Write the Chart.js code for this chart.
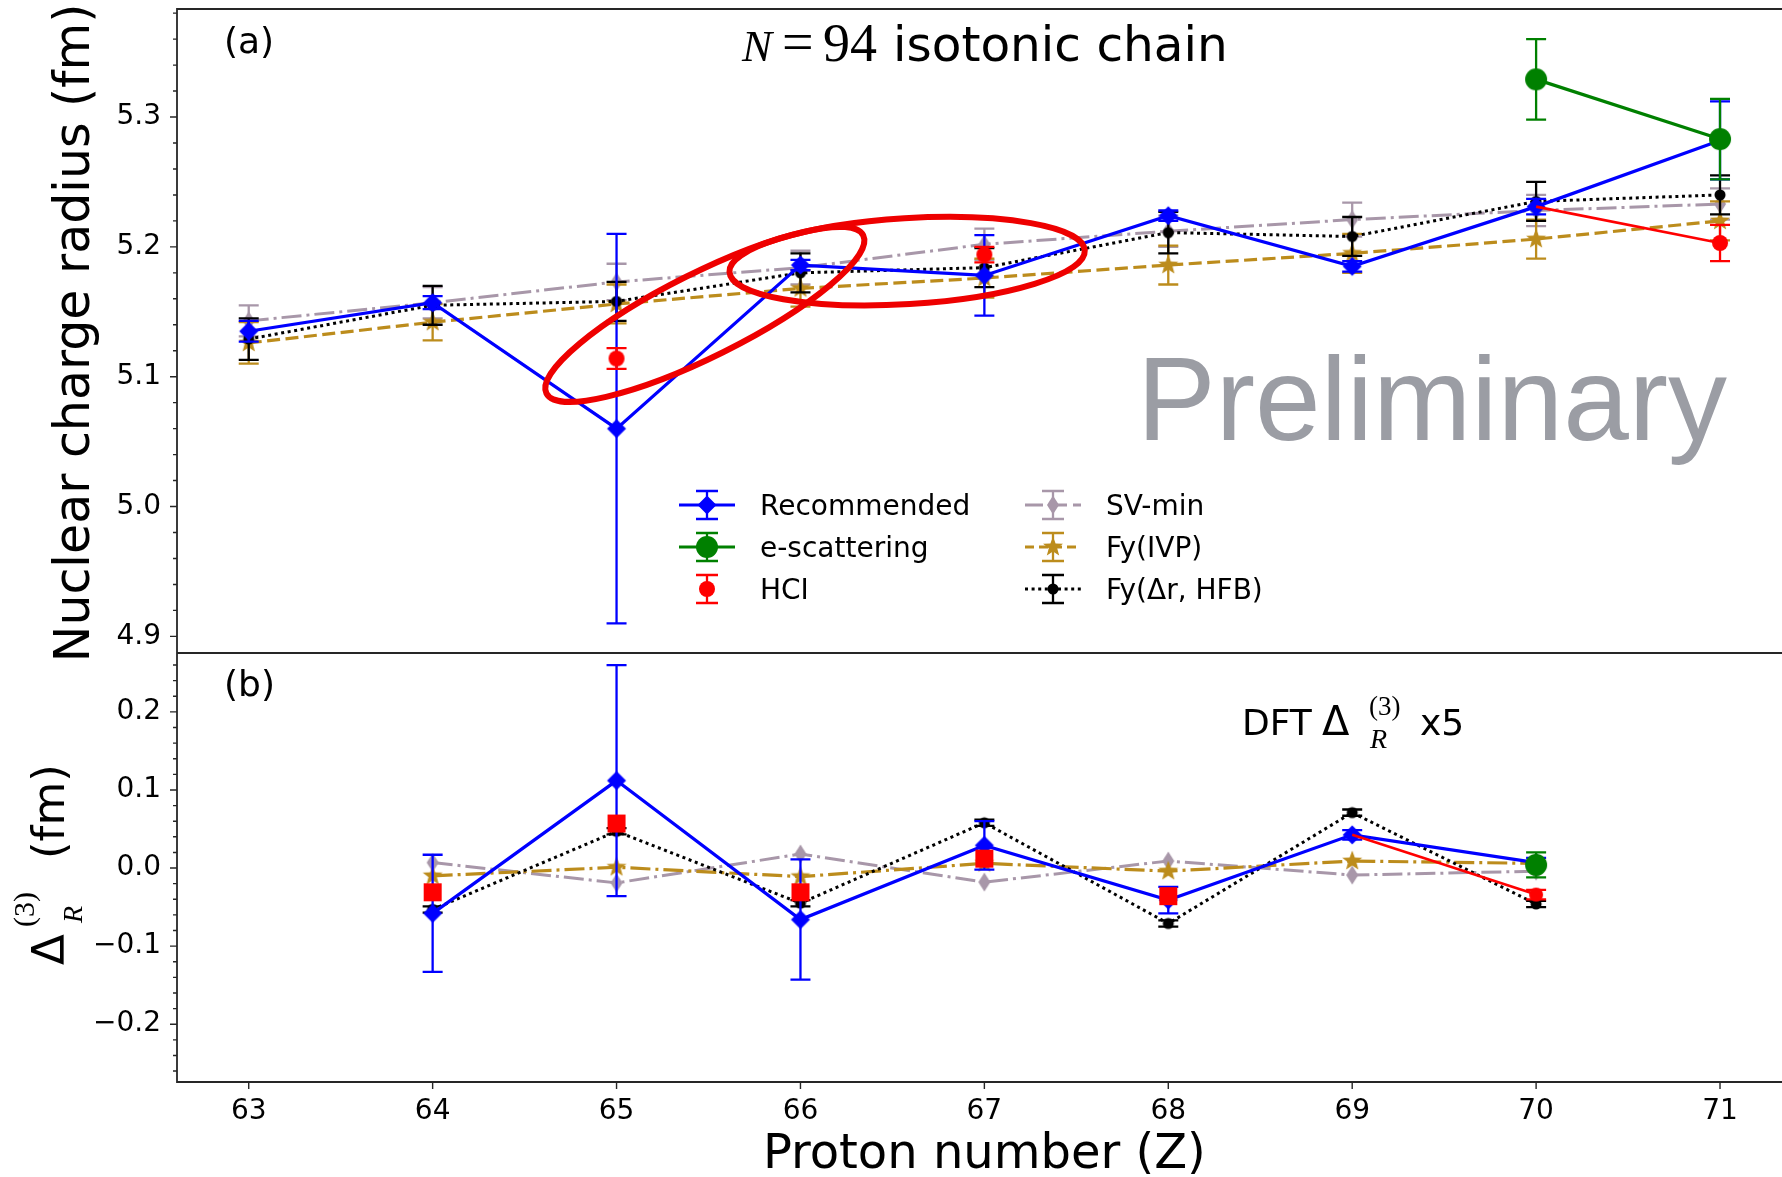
<!DOCTYPE html>
<html>
<head>
<meta charset="utf-8">
<title>N = 94 isotonic chain</title>
<script src="https://cdn.jsdelivr.net/npm/chart.js@4.4.1/dist/chart.umd.min.js"></script>
<style>
  html, body { margin: 0; padding: 0; background: #fff; overflow: hidden; }
  #radiusChart { display: block; }
</style>
</head>
<body>
<canvas id="radiusChart" width="1782" height="1177"></canvas>
<script>
// Proton numbers along the N = 94 chain
const protonNumbers = [63, 64, 65, 66, 67, 68, 69, 70, 71];

// Axis ticks
const zTicks = [63, 64, 65, 66, 67, 68, 69, 70, 71];
const radiusTicks = [4.9, 5.0, 5.1, 5.2, 5.3];
const deltaTicks = [-0.2, -0.1, 0.0, 0.1, 0.2];

// (a) nuclear charge radii in fm, with uncertainties
const recommendedRadius    = [5.135, 5.157, 5.060, 5.186, 5.178, 5.224, 5.185, 5.231, 5.282];
const recommendedRadiusErr = [0.008, 0.005, 0.150, 0.004, 0.031, 0.004, 0.004, 0.006, 0.030];
const eScatteringRadius    = [null, null, null, null, null, null, null, 5.329, 5.283];
const eScatteringRadiusErr = [null, null, null, null, null, null, null, 0.031, 0.031];
const hciRadius            = [null, null, 5.114, null, 5.194, null, null, null, 5.203];
const hciRadiusErr         = [null, null, 0.008, null, 0.006, null, null, null, 0.014];
const svMinRadius          = [5.143, 5.157, 5.173, 5.184, 5.202, 5.212, 5.221, 5.228, 5.233];
const svMinRadiusErr       = [0.012, 0.012, 0.014, 0.013, 0.012, 0.012, 0.013, 0.012, 0.012];
const ivpRadius            = [5.126, 5.142, 5.156, 5.168, 5.176, 5.186, 5.195, 5.206, 5.220];
const ivpRadiusErr         = [0.016, 0.014, 0.015, 0.014, 0.015, 0.015, 0.015, 0.015, 0.015];
const hfbRadius            = [5.129, 5.155, 5.158, 5.180, 5.184, 5.211, 5.208, 5.235, 5.240];
const hfbRadiusErr         = [0.016, 0.015, 0.015, 0.015, 0.015, 0.016, 0.015, 0.015, 0.015];

// (b) three-point radius differences in fm (DFT values scaled x5)
const recommendedDelta    = [null, -0.058, 0.112, -0.066, 0.029, -0.041, 0.0425, 0.007, null];
const recommendedDeltaErr = [null, 0.075, 0.148, 0.077, 0.031, 0.017, 0.006, 0.006, null];
const hciDelta            = [null, -0.031, 0.057, -0.031, 0.012, -0.036, null, null, null];
const hciTailDelta        = [null, null, null, null, null, null, null, -0.034, null];
const hciTailDeltaErr     = [null, null, null, null, null, null, null, 0.006, null];
const eScatteringDelta    = [null, null, null, null, null, null, null, 0.004, null];
const eScatteringDeltaErr = [null, null, null, null, null, null, null, 0.016, null];
const svMinDelta          = [null, 0.007, -0.019, 0.018, -0.018, 0.009, -0.009, -0.004, null];
const ivpDelta            = [null, -0.010, 0.001, -0.011, 0.006, -0.004, 0.009, 0.006, null];
const hfbDelta            = [null, -0.053, 0.047, -0.045, 0.058, -0.071, 0.071, -0.046, null];
const hfbDeltaErr         = [null, 0.004, 0.004, 0.004, 0.004, 0.004, 0.004, 0.004, null];

// Red connectors: Recommended -> HCI at the end of each panel
const hciLinkZ = [70, 71];
const hciDeltaLinkZ = [69, 70];

const BLUE = '#0000ff';
const GREEN = '#008000';
const RED = '#ff0000';
const SVMIN = '#a897a9';
const IVP = '#bc8c1c';
const BLACK = '#000000';

const DASHED = [13, 5.5];
const DOTTED = [3, 3.6];
const DASHDOT = [20, 5, 3, 5];

// turn value/error lists into {x, y, err} points, skipping gaps
function series(values, errors) {
  const pts = [];
  values.forEach((v, i) => {
    if (v === null) return;
    pts.push({ x: protonNumbers[i], y: v, err: errors ? errors[i] : null });
  });
  return pts;
}

function pick(values, z) {
  return values[protonNumbers.indexOf(z)];
}

// marker sprites, matplotlib-like shapes
function sprite(half, paint) {
  const size = 2 * Math.ceil(half) + 4;
  const c = document.createElement('canvas');
  c.width = size;
  c.height = size;
  const g = c.getContext('2d');
  g.translate(size / 2, size / 2);
  paint(g);
  return c;
}
function diamond(color, h, w) {
  return sprite(h, g => {
    g.beginPath();
    g.moveTo(0, -h); g.lineTo(w, 0); g.lineTo(0, h); g.lineTo(-w, 0);
    g.closePath();
    g.fillStyle = color;
    g.fill();
  });
}
function disc(color, r) {
  return sprite(r, g => {
    g.beginPath();
    g.arc(0, 0, r, 0, 2 * Math.PI);
    g.fillStyle = color;
    g.fill();
  });
}
function square(color, h) {
  return sprite(h, g => {
    g.fillStyle = color;
    g.fillRect(-h, -h, 2 * h, 2 * h);
  });
}
function star(color, r) {
  return sprite(r, g => {
    g.beginPath();
    for (let k = 0; k < 10; k++) {
      const rr = k % 2 ? r * 0.42 : r;
      const a = -Math.PI / 2 + k * Math.PI / 5;
      g.lineTo(rr * Math.cos(a), rr * Math.sin(a));
    }
    g.closePath();
    g.fillStyle = color;
    g.fill();
  });
}

const marks = {
  rec: diamond(BLUE, 9.5, 9.5),
  escat: disc(GREEN, 11),
  hci: disc(RED, 8),
  hciSmall: disc(RED, 7),
  hciSquare: square(RED, 9),
  sv: diamond(SVMIN, 9.5, 6),
  ivp: star(IVP, 10.5),
  hfb: disc(BLACK, 5.5)
};

function line(opts) {
  return Object.assign({
    type: 'line',
    showLine: true,
    fill: false,
    tension: 0,
    borderWidth: 3.2,
    borderDash: [],
    borderCapStyle: 'butt',
    pointRadius: 6,
    pointHoverRadius: 6
  }, opts);
}

const datasets = [
  // panel (a)
  line({ label: 'SV-min', yAxisID: 'ya', order: 9, data: series(svMinRadius, svMinRadiusErr),
         borderColor: SVMIN, borderWidth: 3, borderDash: DASHDOT, pointStyle: marks.sv, withErrors: true }),
  line({ label: 'Fy(IVP)', yAxisID: 'ya', order: 8, data: series(ivpRadius, ivpRadiusErr),
         borderColor: IVP, borderWidth: 3.2, borderDash: DASHED, pointStyle: marks.ivp, withErrors: true }),
  line({ label: 'Fy(Δr, HFB)', yAxisID: 'ya', order: 7, data: series(hfbRadius, hfbRadiusErr),
         borderColor: BLACK, borderWidth: 3, borderDash: DOTTED, pointStyle: marks.hfb, withErrors: true }),
  line({ label: 'Recommended', yAxisID: 'ya', order: 6, data: series(recommendedRadius, recommendedRadiusErr),
         borderColor: BLUE, pointStyle: marks.rec, withErrors: true }),
  line({ label: 'HCI link', yAxisID: 'ya', order: 5, borderColor: RED, borderWidth: 2.6, pointRadius: 0,
         data: [{ x: hciLinkZ[0], y: pick(recommendedRadius, hciLinkZ[0]) },
                { x: hciLinkZ[1], y: pick(hciRadius, hciLinkZ[1]) }] }),
  line({ label: 'e-scattering', yAxisID: 'ya', order: 4, data: series(eScatteringRadius, eScatteringRadiusErr),
         borderColor: GREEN, pointStyle: marks.escat, withErrors: true }),
  line({ label: 'HCI', yAxisID: 'ya', order: 3, data: series(hciRadius, hciRadiusErr), showLine: false,
         borderColor: RED, pointStyle: marks.hci, withErrors: true }),

  // panel (b)
  line({ label: 'SV-min', yAxisID: 'yb', order: 9, data: series(svMinDelta),
         borderColor: SVMIN, borderWidth: 3, borderDash: DASHDOT, pointStyle: marks.sv }),
  line({ label: 'Fy(IVP)', yAxisID: 'yb', order: 8, data: series(ivpDelta),
         borderColor: IVP, borderWidth: 3.2, borderDash: DASHDOT, pointStyle: marks.ivp }),
  line({ label: 'Fy(Δr, HFB)', yAxisID: 'yb', order: 7, data: series(hfbDelta, hfbDeltaErr),
         borderColor: BLACK, borderWidth: 3, borderDash: DOTTED, pointStyle: marks.hfb, withErrors: true }),
  line({ label: 'Recommended', yAxisID: 'yb', order: 6, data: series(recommendedDelta, recommendedDeltaErr),
         borderColor: BLUE, pointStyle: marks.rec, withErrors: true }),
  line({ label: 'HCI link', yAxisID: 'yb', order: 5, borderColor: RED, borderWidth: 2.6,
         data: [{ x: hciDeltaLinkZ[0], y: pick(recommendedDelta, hciDeltaLinkZ[0]), err: null },
                { x: hciDeltaLinkZ[1], y: pick(hciTailDelta, hciDeltaLinkZ[1]), err: pick(hciTailDeltaErr, hciDeltaLinkZ[1]) }],
         pointStyle: marks.hciSmall, pointRadius: ctx => (ctx.dataIndex === 1 ? 6 : 0), withErrors: true }),
  line({ label: 'e-scattering', yAxisID: 'yb', order: 4, data: series(eScatteringDelta, eScatteringDeltaErr),
         borderColor: GREEN, pointStyle: marks.escat, withErrors: true }),
  line({ label: 'HCI', yAxisID: 'yb', order: 3, data: series(hciDelta), showLine: false,
         borderColor: RED, pointStyle: marks.hciSquare })
];

// vertical error bars with caps, drawn just under each dataset
const CAP = 10;
const errorBars = {
  id: 'errorBars',
  beforeDatasetDraw(chart, args) {
    const ds = chart.data.datasets[args.index];
    if (!ds.withErrors) return;
    const scale = chart.scales[ds.yAxisID];
    const ctx = chart.ctx;
    ctx.save();
    ctx.strokeStyle = ds.borderColor;
    ctx.lineWidth = 2.3;
    ctx.setLineDash([]);
    args.meta.data.forEach((el, i) => {
      const raw = ds.data[i];
      if (raw.err === null || raw.err === undefined) return;
      const top = scale.getPixelForValue(raw.y + raw.err);
      const bot = scale.getPixelForValue(raw.y - raw.err);
      ctx.beginPath();
      ctx.moveTo(el.x, top); ctx.lineTo(el.x, bot);
      ctx.moveTo(el.x - CAP, top); ctx.lineTo(el.x + CAP, top);
      ctx.moveTo(el.x - CAP, bot); ctx.lineTo(el.x + CAP, bot);
      ctx.stroke();
    });
    ctx.restore();
  }
};

const legendRows = [
  { label: 'Recommended', color: BLUE, dash: [], lined: true, mark: marks.rec, col: 0, row: 0 },
  { label: 'e-scattering', color: GREEN, dash: [], lined: true, mark: marks.escat, col: 0, row: 1 },
  { label: 'HCI', color: RED, dash: [], lined: false, mark: marks.hci, col: 0, row: 2 },
  { label: 'SV-min', color: SVMIN, dash: [18, 6], lined: true, mark: marks.sv, col: 1, row: 0 },
  { label: 'Fy(IVP)', color: IVP, dash: [9, 5], lined: true, mark: marks.ivp, col: 1, row: 1 },
  { label: 'Fy(Δr, HFB)', color: BLACK, dash: DOTTED, lined: true, mark: marks.hfb, col: 1, row: 2 }
];
const legendCols = [707, 1053];
const legendRowsY = [505, 547, 589];

// red rings marking the Z = 65-67 region (centre in data units, size in px)
const rings = [
  { z: 65.48, r: 5.148, rx: 177, ry: 42, tilt: -26.5 },
  { z: 66.58, r: 5.189, rx: 178, ry: 43, tilt: -3.5 }
];

function put(ctx, str, x, y, font, align) {
  ctx.font = font;
  ctx.textAlign = align || 'left';
  ctx.textBaseline = 'alphabetic';
  ctx.fillText(str, x, y);
  return ctx.measureText(str).width;
}

const decorations = {
  id: 'decorations',
  afterDraw(chart) {
    const { ctx, chartArea } = chart;
    const { x: xs, ya, yb } = chart.scales;
    const L = chartArea.left, R = chartArea.right + 20;
    ctx.save();

    // frame and panel separator
    ctx.strokeStyle = '#262626';
    ctx.lineWidth = 1.8;
    ctx.setLineDash([]);
    ctx.beginPath();
    ctx.moveTo(R, ya.top); ctx.lineTo(L, ya.top); ctx.lineTo(L, yb.bottom); ctx.lineTo(R, yb.bottom);
    ctx.moveTo(L, ya.bottom); ctx.lineTo(R, ya.bottom);
    ctx.stroke();

    // tick marks: majors every 0.1, minors every 0.02
    ctx.lineWidth = 1.4;
    ctx.beginPath();
    [[ya, 245, 269], [yb, -13, 13]].forEach(([s, k0, k1]) => {
      for (let k = k0; k <= k1; k++) {
        const y = s.getPixelForValue(k * 0.02);
        const len = k % 5 === 0 ? 7 : 4;
        ctx.moveTo(L, y); ctx.lineTo(L - len, y);
      }
    });
    zTicks.forEach(z => {
      const x = xs.getPixelForValue(z);
      ctx.moveTo(x, yb.bottom); ctx.lineTo(x, yb.bottom + 7);
    });
    ctx.stroke();

    ctx.fillStyle = '#000';
    // panel tags
    put(ctx, '(a)', 224, 53, '36px "DejaVu Sans"');
    put(ctx, '(b)', 224, 696, '36px "DejaVu Sans"');

    // title: N = 94 isotonic chain
    put(ctx, 'N', 742, 61, 'italic 45px "Liberation Serif"');
    put(ctx, '=', 782, 61, '56px "Liberation Serif"');
    put(ctx, '94', 823, 61, '54px "Liberation Serif"');
    put(ctx, 'isotonic chain', 893, 61, '48.5px "DejaVu Sans"');

    // DFT Δ_R^(3) x5
    put(ctx, 'DFT', 1242, 735, '36px "DejaVu Sans"');
    put(ctx, 'Δ', 1322, 735, '40px "DejaVu Sans"');
    put(ctx, '(3)', 1369, 715, '27px "Liberation Serif"');
    put(ctx, 'R', 1370, 748, 'italic 28px "Liberation Serif"');
    put(ctx, 'x5', 1420, 735, '36px "DejaVu Sans"');

    // axis titles
    put(ctx, 'Proton number (Z)', (xs.getPixelForValue(63) + xs.getPixelForValue(71)) / 2, 1168,
        '48px "DejaVu Sans"', 'center');

    ctx.save();
    ctx.translate(89, (ya.top + ya.bottom) / 2 + 2);
    ctx.rotate(-Math.PI / 2);
    put(ctx, 'Nuclear charge radius (fm)', 0, 0, '49px "DejaVu Sans"', 'center');
    ctx.restore();

    ctx.save();
    ctx.translate(64, 965);
    ctx.rotate(-Math.PI / 2);
    put(ctx, 'Δ', 0, 0, '45px "DejaVu Sans"');
    put(ctx, '(3)', 38, -30, '30px "Liberation Serif"');
    put(ctx, 'R', 42, 18, 'italic 28px "Liberation Serif"');
    put(ctx, '(fm)', 106, 0, '45px "DejaVu Sans"');
    ctx.restore();

    // watermark
    ctx.fillStyle = 'rgb(155,157,164)';
    put(ctx, 'Preliminary', 1137, 440, '118px "Liberation Sans"');

    // legend
    legendRows.forEach(e => {
      const cx = legendCols[e.col];
      const cy = legendRowsY[e.row];
      ctx.strokeStyle = e.color;
      if (e.lined) {
        ctx.lineWidth = 3;
        ctx.setLineDash(e.dash);
        ctx.beginPath();
        ctx.moveTo(cx - 28, cy); ctx.lineTo(cx + 28, cy);
        ctx.stroke();
      }
      ctx.setLineDash([]);
      ctx.lineWidth = 2.3;
      ctx.beginPath();
      ctx.moveTo(cx, cy - 14); ctx.lineTo(cx, cy + 14);
      ctx.moveTo(cx - 11, cy - 14); ctx.lineTo(cx + 11, cy - 14);
      ctx.moveTo(cx - 11, cy + 14); ctx.lineTo(cx + 11, cy + 14);
      ctx.stroke();
      ctx.drawImage(e.mark, cx - e.mark.width / 2, cy - e.mark.height / 2);
      ctx.fillStyle = '#000';
      put(ctx, e.label, cx + 53, cy + 10, '28px "DejaVu Sans"');
    });

    // highlight rings
    ctx.strokeStyle = '#ee0000';
    ctx.lineWidth = 6;
    rings.forEach(r => {
      ctx.beginPath();
      ctx.ellipse(xs.getPixelForValue(r.z), ya.getPixelForValue(r.r), r.rx, r.ry,
                  r.tilt * Math.PI / 180, 0, 2 * Math.PI);
      ctx.stroke();
    });

    ctx.restore();
  }
};

function fixWidth(scale) {
  scale.width = 177;
  scale.paddingTop = 0;
  scale.paddingBottom = 0;
}

const tickFont = { family: 'DejaVu Sans', size: 28 };

new Chart(document.getElementById('radiusChart'), {
  type: 'line',
  data: { datasets },
  options: {
    responsive: false,
    animation: false,
    events: [],
    layout: { autoPadding: false, padding: { top: 9, right: 0, bottom: 0, left: 0 } },
    plugins: {
      legend: { display: false },
      tooltip: { enabled: false },
      title: { display: false }
    },
    scales: {
      x: {
        type: 'linear',
        position: 'bottom',
        min: 62.61,
        max: 71.337,
        grid: { display: false, drawTicks: false },
        border: { display: false },
        ticks: { font: tickFont, color: '#000', padding: 13, callback: v => String(v) },
        afterBuildTicks: s => { s.ticks = zTicks.map(v => ({ value: v })); },
        afterFit: s => { s.height = 95; s.paddingLeft = 0; s.paddingRight = 0; }
      },
      yb: {
        type: 'linear',
        position: 'left',
        stack: 'panels',
        stackWeight: 429,
        min: -0.274,
        max: 0.2754,
        grid: { display: false, drawTicks: false },
        border: { display: false },
        ticks: {
          font: tickFont, color: '#000', padding: 16,
          callback: v => (v < 0 ? '\u2212' + Math.abs(v).toFixed(1) : Math.abs(v).toFixed(1))
        },
        afterBuildTicks: s => { s.ticks = deltaTicks.map(v => ({ value: v })); },
        afterFit: fixWidth
      },
      ya: {
        type: 'linear',
        position: 'left',
        stack: 'panels',
        stackWeight: 644,
        min: 4.8872,
        max: 5.3832,
        grid: { display: false, drawTicks: false },
        border: { display: false },
        ticks: { font: tickFont, color: '#000', padding: 16, callback: v => v.toFixed(1) },
        afterBuildTicks: s => { s.ticks = radiusTicks.map(v => ({ value: v })); },
        afterFit: fixWidth
      }
    }
  },
  plugins: [errorBars, decorations]
});
</script>
</body>
</html>
